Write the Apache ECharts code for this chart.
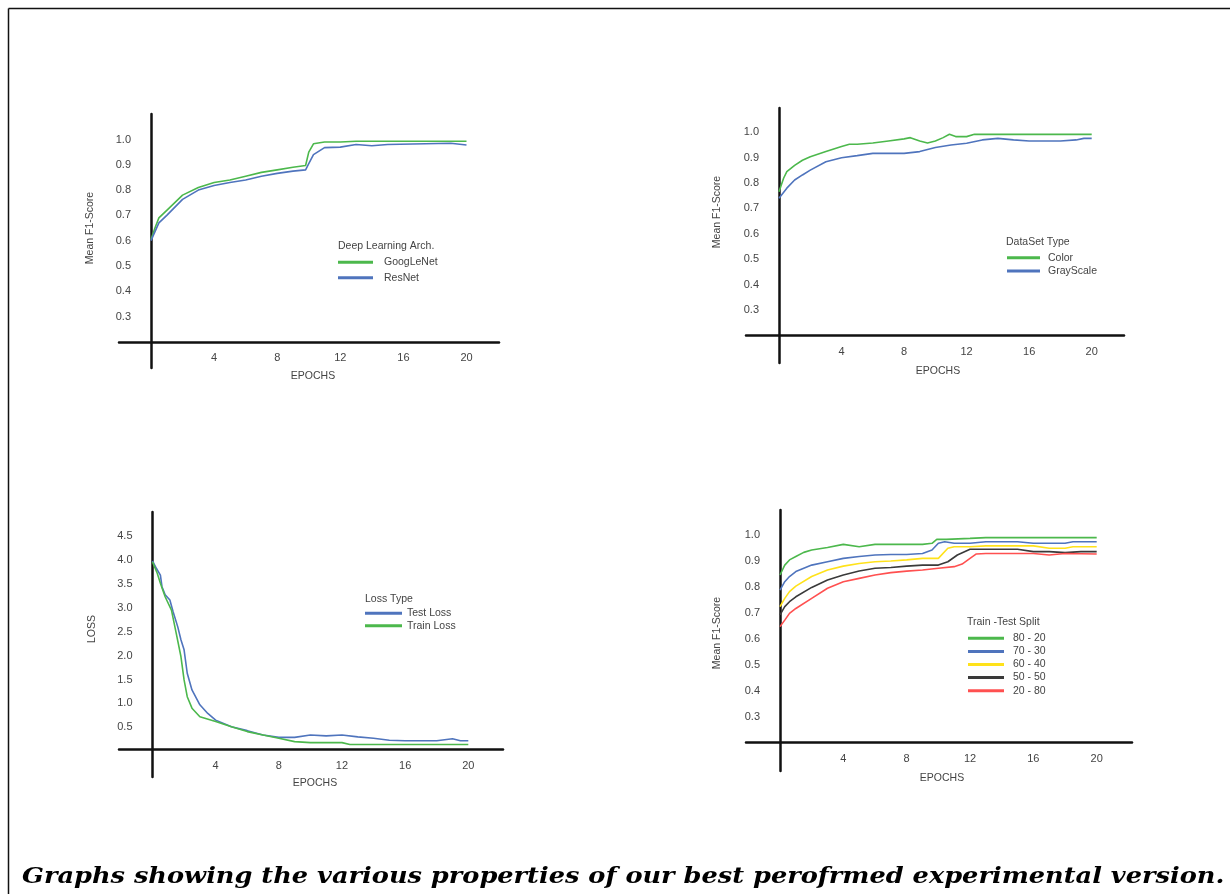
<!DOCTYPE html>
<html>
<head>
<meta charset="utf-8">
<script src="https://cdn.jsdelivr.net/npm/echarts@6/dist/echarts.min.js"></script>
<style>
html,body{margin:0;padding:0;background:#fff;}
#chart{width:1230px;height:894px;}
</style>
</head>
<body>
<div id="chart"></div>
<script>
// ---------- tick labels ----------
const epochTicks = [4, 8, 12, 16, 20];
const f1Ticks = [0.3, 0.4, 0.5, 0.6, 0.7, 0.8, 0.9, 1.0];
const lossTicks = [0.5, 1.0, 1.5, 2.0, 2.5, 3.0, 3.5, 4.0, 4.5];

// ---------- Top-left: Deep Learning Arch. ----------
const googEpochs = [0, 0.25, 0.5, 1, 2, 3, 4, 5, 6, 7, 8, 9, 9.8, 10, 10.3, 11, 12, 13, 20];
const googLeNet  = [0.604, 0.65, 0.69, 0.72, 0.78, 0.81, 0.83, 0.84, 0.855, 0.87, 0.88, 0.89, 0.897, 0.95, 0.983, 0.99, 0.99, 0.993, 0.993];
const resEpochs  = [0, 0.5, 1, 2, 3, 4, 5, 6, 7, 8, 9, 9.8, 10, 10.3, 11, 12, 13, 14, 15, 19, 20];
const resNet     = [0.60, 0.67, 0.70, 0.763, 0.80, 0.818, 0.83, 0.84, 0.855, 0.866, 0.875, 0.88, 0.905, 0.94, 0.968, 0.97, 0.98, 0.975, 0.98, 0.985, 0.978];

// ---------- Top-right: DataSet Type ----------
const colorEpochs = [0, 0.3, 0.5, 1, 1.5, 2, 3, 4, 4.5, 5, 6, 7, 8, 8.4, 9, 9.5, 10, 10.5, 10.9, 11.3, 12, 12.5, 20];
const colorF1     = [0.766, 0.82, 0.845, 0.87, 0.89, 0.904, 0.924, 0.944, 0.953, 0.953, 0.958, 0.966, 0.974, 0.979, 0.966, 0.958, 0.966, 0.979, 0.992, 0.983, 0.983, 0.992, 0.992];
const grayEpochs  = [0, 0.5, 1, 1.5, 2, 3, 4, 5, 6, 7, 8, 9, 10, 11, 12, 13, 14, 15, 16, 18, 19, 19.5, 20];
const grayF1      = [0.74, 0.78, 0.812, 0.832, 0.851, 0.884, 0.9, 0.908, 0.917, 0.917, 0.917, 0.924, 0.94, 0.95, 0.957, 0.97, 0.976, 0.97, 0.966, 0.966, 0.97, 0.976, 0.976];

// ---------- Bottom-left: Loss Type ----------
const testEpochs  = [0, 0.25, 0.5, 0.6, 0.8, 1.1, 1.3, 1.6, 1.8, 2.0, 2.2, 2.5, 3, 3.5, 4, 5, 6, 7, 8, 9, 10, 11, 12, 13, 14, 15, 16, 18, 19, 19.5, 20];
const testLoss    = [3.98, 3.82, 3.68, 3.44, 3.27, 3.16, 2.92, 2.6, 2.33, 2.12, 1.63, 1.28, 0.97, 0.79, 0.65, 0.51, 0.43, 0.34, 0.29, 0.29, 0.34, 0.32, 0.34, 0.30, 0.27, 0.23, 0.22, 0.22, 0.26, 0.22, 0.22];
const trainEpochs = [0, 0.3, 0.5, 0.8, 1.2, 1.5, 1.8, 2.0, 2.2, 2.5, 3, 4, 5, 6, 7, 8, 9, 10, 12, 12.5, 20];
const trainLoss   = [3.96, 3.72, 3.51, 3.23, 2.95, 2.47, 1.98, 1.49, 1.14, 0.9, 0.72, 0.62, 0.51, 0.41, 0.34, 0.27, 0.2, 0.18, 0.18, 0.14, 0.14];

// ---------- Bottom-right: Train -Test Split ----------
const s8020Epochs = [0, 0.3, 0.6, 1, 1.5, 2, 3, 4, 5, 6, 7, 8, 9, 9.6, 9.9, 10.5, 12, 13, 20];
const s8020       = [0.846, 0.884, 0.904, 0.917, 0.933, 0.942, 0.952, 0.964, 0.955, 0.964, 0.964, 0.964, 0.964, 0.968, 0.983, 0.983, 0.987, 0.99, 0.99];
const s7030Epochs = [0, 0.3, 0.6, 1, 2, 3, 4, 5, 6, 7, 8, 9, 9.6, 10, 10.4, 11, 12, 13, 15, 16, 17, 18, 18.5, 20];
const s7030       = [0.788, 0.82, 0.84, 0.859, 0.884, 0.897, 0.91, 0.917, 0.923, 0.925, 0.925, 0.929, 0.942, 0.968, 0.974, 0.968, 0.968, 0.974, 0.974, 0.968, 0.968, 0.968, 0.974, 0.974];
const s6040Epochs = [0, 0.3, 0.6, 1, 2, 3, 4, 5, 6, 7, 8, 9, 10, 10.6, 11, 12, 13, 16, 17, 18, 18.5, 20];
const s6040       = [0.724, 0.756, 0.782, 0.803, 0.84, 0.865, 0.88, 0.89, 0.897, 0.9, 0.904, 0.91, 0.91, 0.949, 0.955, 0.955, 0.958, 0.958, 0.949, 0.949, 0.955, 0.955];
const s5050Epochs = [0, 0.3, 0.6, 1, 2, 3, 4, 5, 6, 7, 8, 9, 10, 10.6, 11.2, 12, 13, 15, 16, 17, 18, 19, 20];
const s5050       = [0.692, 0.724, 0.743, 0.762, 0.798, 0.827, 0.846, 0.861, 0.872, 0.875, 0.88, 0.884, 0.884, 0.897, 0.923, 0.945, 0.945, 0.945, 0.936, 0.936, 0.932, 0.936, 0.936];
const s2080Epochs = [0, 0.3, 0.6, 1, 2, 3, 4, 5, 6, 7, 8, 9, 10, 11, 11.5, 12, 12.4, 13, 16, 17, 18, 20];
const s2080       = [0.647, 0.672, 0.698, 0.717, 0.756, 0.795, 0.82, 0.833, 0.846, 0.855, 0.861, 0.865, 0.872, 0.878, 0.888, 0.91, 0.927, 0.929, 0.929, 0.923, 0.929, 0.927];

// ---------- layout helpers ----------
function zip(xs, ys) { return xs.map((x, i) => [x, ys[i]]); }

const TEXT = '#444';
const SANS = 'Liberation Sans, Arial, sans-serif';

// pixel layout of each panel (left/right/top/bottom of the axis lines, and tick calibration)
const panels = [
  {left:119, right:499, top:114, bottom:368, x0:151,   x20:466.5,  yHi:1.0, yHiPx:139.5, yLo:0.3, yLoPx:316.5, xAt:0.2, yTicks:f1Ticks},
  {left:746, right:1124, top:108, bottom:363, x0:779,  x20:1091.7, yHi:1.0, yHiPx:132.3, yLo:0.3, yLoPx:310,   xAt:0.2, yTicks:f1Ticks},
  {left:119, right:503, top:512, bottom:777, x0:152.5, x20:468.3,  yHi:4.5, yHiPx:536,   yLo:0.5, yLoPx:727.3, xAt:0.04, yTicks:lossTicks},
  {left:746, right:1132, top:510, bottom:771, x0:780,  x20:1096.7, yHi:1.0, yHiPx:535,   yLo:0.3, yLoPx:716.7, xAt:0.2, yTicks:f1Ticks}
];

const grids = [], xAxes = [], yAxes = [];
panels.forEach((p, i) => {
  const xs = (p.x20 - p.x0) / 20;
  const yPer = (p.yLoPx - p.yHiPx) / (p.yHi - p.yLo);
  const xMin = (p.left - p.x0) / xs, xMax = (p.right - p.x0) / xs;
  const yMax = p.yHi + (p.yHiPx - p.top) / yPer;
  const yMin = p.yLo - (p.bottom - p.yLoPx) / yPer;
  const xLinePx = p.yLoPx - (p.xAt - p.yLo) * yPer;
  grids.push({left:p.left, top:p.top, width:p.right - p.left, height:p.bottom - p.top, containLabel:false});
  xAxes.push({
    type:'value', gridIndex:i, min:xMin, max:xMax, position:'bottom',
    offset: -(p.bottom - xLinePx),
    axisLine:{show:true, onZero:false, lineStyle:{color:'#111', width:2.5}},
    axisTick:{show:false}, splitLine:{show:false},
    axisLabel:{customValues:epochTicks, color:TEXT, fontSize:11, fontFamily:SANS, margin:11}
  });
  yAxes.push({
    type:'value', gridIndex:i, min:yMin, max:yMax, position:'left',
    offset: -(p.x0 - p.left),
    axisLine:{show:true, onZero:false, lineStyle:{color:'#111', width:2.5}},
    axisTick:{show:false}, splitLine:{show:false},
    axisLabel:{customValues:p.yTicks, color:TEXT, fontSize:11, fontFamily:SANS, margin:20,
      formatter: v => v.toFixed(1)}
  });
});

function line(name, xs, ys, idx, color) {
  return {
    name, type:'line', xAxisIndex:idx, yAxisIndex:idx, data:zip(xs, ys),
    showSymbol:false, symbol:'none', lineStyle:{color, width:1.6}, itemStyle:{color},
    z:3
  };
}

const GREEN = '#4cb84c', BLUE = '#4f74bd', YELLOW = '#ffe21a', BLACK = '#3a3a3a', RED = '#ff5050';

const series = [
  line('GoogLeNet', googEpochs, googLeNet, 0, GREEN),
  line('ResNet', resEpochs, resNet, 0, BLUE),
  line('Color', colorEpochs, colorF1, 1, GREEN),
  line('GrayScale', grayEpochs, grayF1, 1, BLUE),
  line('Test Loss', testEpochs, testLoss, 2, BLUE),
  line('Train Loss', trainEpochs, trainLoss, 2, GREEN),
  line('80 - 20', s8020Epochs, s8020, 3, GREEN),
  line('70 - 30', s7030Epochs, s7030, 3, BLUE),
  line('60 - 40', s6040Epochs, s6040, 3, YELLOW),
  line('50 - 50', s5050Epochs, s5050, 3, BLACK),
  line('20 - 80', s2080Epochs, s2080, 3, RED)
];

function legend(names, left, top, w, gap, pad) {
  return {
    data:names, orient:'vertical', left, top, itemWidth:w, itemHeight:3, itemGap:gap,
    icon:'rect', selectedMode:false, padding:0,
    textStyle:{color:TEXT, fontSize:10.5, fontFamily:SANS, lineHeight:12, padding:[0,0,0,pad]}
  };
}

function txt(text, x, y, opts) {
  return Object.assign({
    type:'text', x, y, silent:true,
    style:{text, fill:TEXT, font:'10.5px ' + SANS, textAlign:'center', textVerticalAlign:'middle'}
  }, opts || {});
}
function ltxt(text, x, y) {
  return {type:'text', x, y, silent:true,
    style:{text, fill:TEXT, font:'10.5px ' + SANS, textAlign:'left', textVerticalAlign:'middle'}};
}

const graphic = [
  {type:'line', shape:{x1:8.5, y1:8.5, x2:1230, y2:8.5}, style:{stroke:'#111', lineWidth:1.5}, silent:true},
  {type:'line', shape:{x1:8.5, y1:8.5, x2:8.5, y2:894}, style:{stroke:'#111', lineWidth:1.5}, silent:true},
  // y axis names
  txt('Mean F1-Score', 90, 228, {rotation:Math.PI/2}),
  txt('Mean F1-Score', 717, 212, {rotation:Math.PI/2}),
  txt('LOSS', 92, 629, {rotation:Math.PI/2}),
  txt('Mean F1-Score', 717, 633, {rotation:Math.PI/2}),
  // x axis names
  txt('EPOCHS', 313, 376),
  txt('EPOCHS', 938, 371),
  txt('EPOCHS', 315, 783),
  txt('EPOCHS', 942, 778),
  // legend titles
  ltxt('Deep Learning Arch.', 338, 246),
  ltxt('DataSet Type', 1006, 242),
  ltxt('Loss Type', 365, 599),
  ltxt('Train -Test Split', 967, 622),
  // caption
  {type:'text', x:22, y:877, scaleX:1.165, silent:true,
   style:{text:'Graphs showing the various properties of our best perofrmed experimental version.',
     fill:'#000', font:'italic bold 22px "DejaVu Serif", serif', textAlign:'left', textVerticalAlign:'middle'}}
];

const chart = echarts.init(document.getElementById('chart'), null, {renderer:'canvas'});
chart.setOption({
  animation:false,
  backgroundColor:'#fff',
  grid:grids, xAxis:xAxes, yAxis:yAxes, series,
  legend:[
    legend(['GoogLeNet', 'ResNet'], 338, 256.3, 35, 3.4, 6),
    legend(['Color', 'GrayScale'], 1007, 251.7, 33, 1.3, 3),
    legend(['Test Loss', 'Train Loss'], 365, 607.3, 37, 0.4, 0),
    legend(['80 - 20', '70 - 30', '60 - 40', '50 - 50', '20 - 80'], 968, 632.3, 36, 1.1, 4)
  ],
  graphic
});
</script>
</body>
</html>
